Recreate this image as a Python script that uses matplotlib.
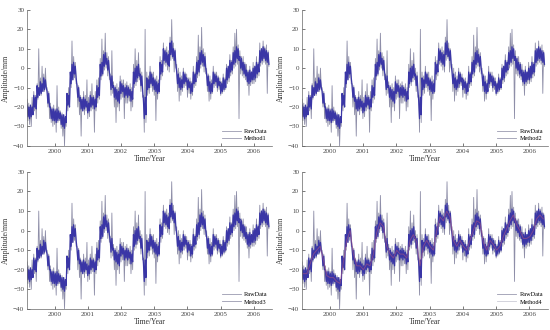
import numpy as np
import matplotlib
matplotlib.use("Agg")
import matplotlib.pyplot as plt

plt.rcParams['font.family'] = ['Liberation Serif', 'DejaVu Serif']

# sampling grid: every 0.025 year from 1999.175 to 2006.45
t_start = 1999.175
t_step = 0.025

# raw observations (gray layer), 4 samples per 0.1 year
raw_data = [
    -16, -27, -18, -29,  -20, -30, -15, -24,  -12, -22, -14, -26,  -8, -16, 10, -14,
    -5, -14, 1, -12,  -3, -12, 0, -10,  -10, -20, -12, -26,  -18, -28, -20, -30,
    -19, -29, -21, -33,  -9, -28, -20, -27,  -22, -31, -23, -35,  -24, -40, -25, -30,
    -13, -22, -10, -20,  -2, -10, 14, -6,  6, -5, 3, -8,  -8, -20, -9, -24,
    -14, -35, -15, -22,  -12, -24, -14, -22,  -6, -26, -15, -25,  -12, -22, -8, -21,
    -14, -33, -12, -22,  -6, -18, -5, -16,  5, -6, 15, -4,  9, -1, 18, 0,
    8, -4, 6, -6,  -3, -14, 9, -13,  -7, -20, -9, -28,  -8, -20, -10, -22,
    -4, -16, -6, -15,  -6, -26, -8, -18,  -7, -18, -9, -17,  -8, -22, -10, -20,
    2, -10, 10, -9,  4, -7, 8, -6,  0, -12, -2, -15,  -14, -33, 20, -28,
    -2, -14, -4, -13,  1, -10, -2, -12,  -2, -14, -5, -27,  -4, -16, -6, -13,
    6, -6, 4, -4,  13, 2, 10, 1,  11, -1, 9, -2,  16, 4, 25, 5,
    13, -2, 10, 0,  2, -12, 0, -17,  -2, -14, -4, -12,  0, -10, -2, -9,
    -3, -15, -5, -13,  -5, -16, -7, -14,  1, -10, -2, -9,  6, -5, 17, -4,
    11, 0, 21, 1,  10, -2, 8, -3,  0, -12, -3, -17,  -4, -16, -6, -13,
    1, -10, -2, -9,  -2, -12, -4, -11,  -5, -14, -7, -13,  -3, -12, -5, -11,
    2, -8, 0, -7,  7, -4, 4, -3,  11, 0, 18, 1,  20, 2, 12, -26,
    9, -3, 6, -4,  6, -5, 3, -6,  2, -9, -1, -14,  1, -9, -2, -8,
    3, -8, 0, -7,  6, -5, 3, -4,  13, 1, 10, 2,  14, 3, 11, 2,
    12, -13, 9, 1,
]

# fitted series (blue band), same grid
fit_data = [
    -19, -25, -20, -26,  -19, -25, -20, -24,  -14, -20, -15, -21,  -9, -15, -10, -14,
    -7, -13, -8, -12,  -5, -11, -6, -10,  -12, -18, -13, -20,  -20, -26, -21, -27,
    -21, -27, -22, -28,  -21, -27, -22, -26,  -23, -29, -24, -30,  -24, -31, -25, -28,
    -13, -19, -14, -20,  -2, -8, 2, -6,  3, -3, 1, -5,  -9, -15, -10, -17,
    -15, -21, -16, -22,  -15, -21, -16, -20,  -17, -23, -18, -22,  -14, -20, -15, -19,
    -15, -21, -16, -20,  -9, -15, -10, -14,  2, -4, 3, -3,  7, 1, 8, 2,
    5, -1, 4, -2,  -5, -11, -4, -10,  -9, -15, -10, -16,  -11, -17, -12, -18,
    -7, -13, -8, -12,  -9, -15, -10, -14,  -9, -15, -10, -14,  -11, -17, -12, -16,
    -2, -8, 0, -7,  1, -5, 2, -4,  -3, -9, -4, -11,  -17, -26, -15, -24,
    -5, -11, -6, -10,  -2, -8, -3, -9,  -5, -11, -6, -12,  -7, -13, -8, -12,
    3, -3, 2, -2,  10, 4, 9, 3,  8, 2, 7, 1,  13, 7, 14, 6,
    10, 4, 9, 2,  -2, -8, -3, -10,  -5, -11, -6, -10,  -2, -8, -3, -7,
    -5, -11, -6, -10,  -7, -13, -8, -12,  -2, -8, -3, -7,  3, -3, 4, -2,
    8, 2, 9, 3,  7, 1, 6, 0,  -3, -9, -4, -12,  -7, -13, -8, -12,
    -2, -8, -3, -7,  -4, -10, -5, -9,  -7, -13, -8, -12,  -5, -11, -6, -10,
    0, -6, 1, -5,  4, -2, 3, -1,  8, 2, 9, 3,  11, 5, 10, 4,
    6, 0, 5, -1,  3, -3, 2, -4,  -1, -7, -2, -8,  -1, -7, -2, -6,
    0, -6, 1, -5,  3, -3, 2, -2,  9, 3, 10, 4,  11, 5, 10, 4,
    9, 3, 8, 2,
]

# smoother estimate drawn in the fourth panel, one value per 0.1 year
fit4_data = [
    -22, -22, -17, -12, -10, -8, -15, -23, -24, -24, -26, -27,
    -16, -5, 0, -12, -18, -18, -20, -17, -18, -12, -1, 4,
    2, -8, -12, -14, -10, -12, -12, -14, -5, -2, -6, -18,
    -8, -5, -8, -10, 0, 7, 5, 10, 7, -5, -8, -5,
    -8, -10, -5, 0, 5, 4, -6, -10, -5, -7, -10, -8,
    -3, 1, 5, 8, 3, 0, -4, -4, -3, 0, 6, 8, 6,
]

method_names = ["Method1", "Method2", "Method3", "Method4"]
year_ticks = [2000, 2001, 2002, 2003, 2004, 2005, 2006]
amp_ticks = [-40, -30, -20, -10, 0, 10, 20, 30]

t = t_start + t_step * np.arange(len(raw_data))
t_fit = t_start + t_step * np.arange(len(fit_data))
t4 = t_start + 0.1 * np.arange(len(fit4_data)) + 0.04

fig = plt.figure(figsize=(5.5, 3.3), dpi=100)
boxes = [
    [0.049, 0.558, 0.446, 0.412],
    [0.549, 0.558, 0.447, 0.412],
    [0.049, 0.064, 0.446, 0.415],
    [0.549, 0.064, 0.447, 0.415],
]

for k, box in enumerate(boxes):
    ax = fig.add_axes(box)
    ax.plot(t, raw_data, color="#8e8ea8", lw=0.6, label="RawData")
    if k == 3:
        ax.plot(t_fit, fit_data, color="#3a36a6", lw=0.9)
        ax.plot(t4, fit4_data, color="#c05a7a", lw=0.7, alpha=0.5,
                label=method_names[k])
    else:
        ax.plot(t_fit, fit_data, color="#3a36a6", lw=0.9,
                label=method_names[k])
    ax.set_xlim(1999.17, 2006.55)
    ax.set_ylim(-40, 30)
    ax.set_xticks(year_ticks)
    ax.set_yticks(amp_ticks)
    ax.tick_params(direction="in", length=2, width=0.5, labelsize=5,
                   pad=2, colors="#444444")
    for side in ["top", "right"]:
        ax.spines[side].set_visible(False)
    for side in ["left", "bottom"]:
        ax.spines[side].set_linewidth(0.5)
        ax.spines[side].set_color("#666666")
    ax.set_xlabel("Time/Year", fontsize=5.5, labelpad=1, color="#333333")
    ax.set_ylabel("Amplitude/mm", fontsize=5.5, labelpad=2, color="#333333")
    leg = ax.legend(loc="lower right", fontsize=4.5, frameon=False,
                    handlelength=3, handletextpad=0.6, labelspacing=0.3,
                    borderaxespad=0.3)
    for line in leg.get_lines():
        line.set_color("#9a9ab0")
        line.set_linewidth(0.6)

fig.savefig("out.png", dpi=100)
